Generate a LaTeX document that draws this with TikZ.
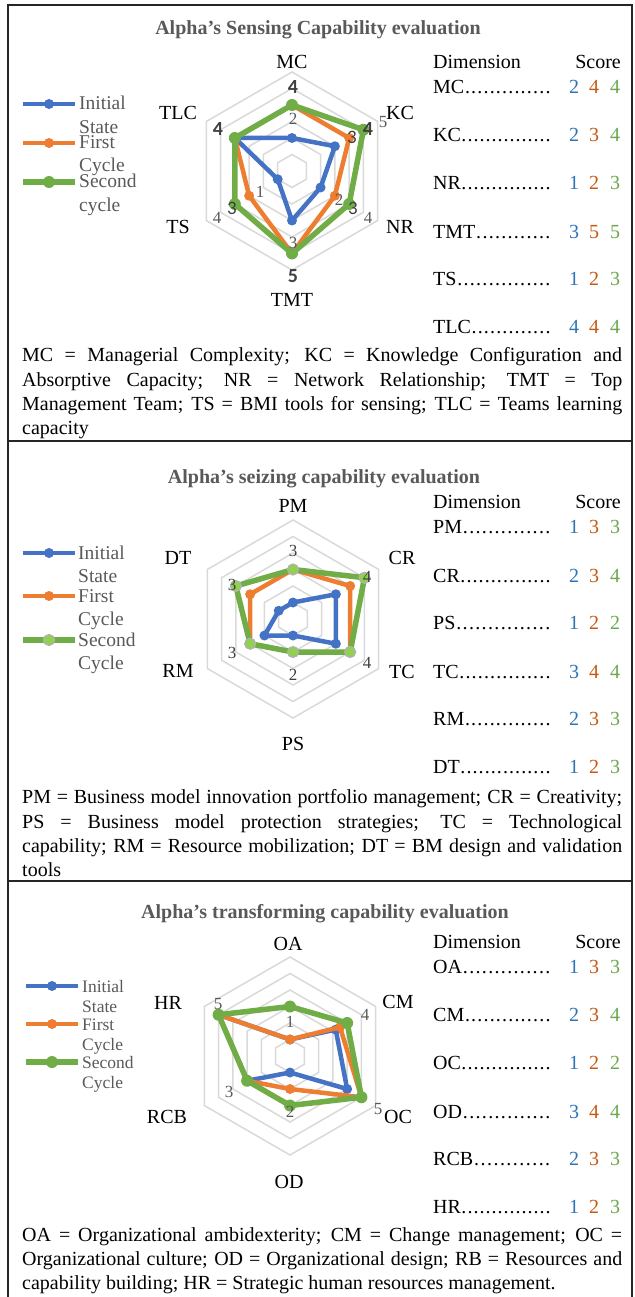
\documentclass[tikz,border=0pt]{standalone}
\usepackage{fontspec}
\setmainfont{Liberation Serif}
\newfontfamily\lblsans{Carlito}
\usepackage{tikz}
\usetikzlibrary{calc}
\definecolor{serblue}{RGB}{68,114,196}
\definecolor{serorange}{RGB}{237,125,49}
\definecolor{sergreen}{RGB}{112,173,71}
\definecolor{litegreen}{RGB}{146,208,80}
\definecolor{gridgray}{RGB}{217,217,217}
\definecolor{txtgray}{RGB}{89,89,89}
\definecolor{lblgray}{RGB}{64,64,64}
\definecolor{scoreblue}{RGB}{46,117,182}
\definecolor{scoreorange}{RGB}{197,90,17}
\definecolor{scoregreen}{RGB}{106,168,79}

\newcommand{\ru}{16.5}
\newcommand{\dotlead}{\xleaders\hbox to 6pt{\hss.\hss}\hfill}
\newcommand{\hexrings}{%
  \foreach \k in {1,...,6}
    \draw[gridln] (90:\k*\ru) -- (30:\k*\ru) -- (-30:\k*\ru) -- (-90:\k*\ru)
      -- (210:\k*\ru) -- (150:\k*\ru) -- cycle;}
\newcommand{\radarline}[8]{%
  \draw[#1] (90:#3*\ru) -- (30:#4*\ru) -- (-30:#5*\ru) -- (-90:#6*\ru)
    -- (210:#7*\ru) -- (150:#8*\ru) -- cycle;
  \foreach \a/\v in {90/#3,30/#4,-30/#5,-90/#6,210/#7,150/#8}
    \path[#2] (\a:\v*\ru) circle;}
\newcommand{\dimrow}[6]{%
  \node[tabtxt, anchor=base west] (#1) at (433,-#2) {\makebox[118pt][l]{#3\dotlead}};
  \node[tabtxt, text=scoreblue] (#1b) at (574,-#2) {#4};
  \node[tabtxt, text=scoreorange] (#1o) at (594,-#2) {#5};
  \node[tabtxt, text=scoregreen] (#1g) at (615,-#2) {#6};}
\newcommand{\footline}[3]{\node[foot] (#1) at (22,-#2) {\makebox[600pt][s]{#3}};}
\newcommand{\footlast}[3]{\node[foot] (#1) at (22,-#2) {#3};}

\begin{document}
\begin{tikzpicture}[
  x=1pt, y=1pt,
  gridln/.style={gridgray, line width=1.5},
  lnA/.style={serblue, line width=4.5, line join=round},
  lnB/.style={serorange, line width=4.5, line join=round},
  lnC/.style={sergreen, line width=5.5, line join=round},
  mkA/.style={fill=serblue, radius=5},
  mkB/.style={fill=serorange, radius=5},
  mkC/.style={fill=sergreen, radius=6},
  mkD/.style={fill=litegreen, draw=gray!60, line width=1.2, radius=5.5},
  ttl/.style={anchor=base, inner sep=0, text=txtgray, font=\bfseries\fontsize{20}{24}\selectfont},
  axlbl/.style={inner sep=0, font=\fontsize{20}{24}\selectfont},
  legtxt/.style={anchor=base west, inner sep=0, text=txtgray, font=\fontsize{19.5}{24}\selectfont},
  tabtxt/.style={anchor=base, inner sep=0, font=\fontsize{20}{24}\selectfont},
  foot/.style={anchor=base west, inner sep=0, font=\fontsize{20}{24}\selectfont},
  dlser/.style={inner sep=0, text=txtgray, font=\fontsize{17}{17}\selectfont},
  dlsans/.style={inner sep=0, text=lblgray, font=\lblsans\bfseries\fontsize{20}{20}\selectfont},
  dlsansr/.style={inner sep=0, text=lblgray, font=\lblsans\fontsize{19}{19}\selectfont}
]
\useasboundingbox (0,0) rectangle (634,-1297);
% frame and panel rules
\draw[line width=1.6, black!85] (8,-1297) -- (8,-5) -- (632,-5) -- (632,-1297);
\draw[line width=1.6, black!85] (8,-441) -- (632,-441);
\draw[line width=1.6, black!85] (8,-881) -- (632,-881);

%% sensing
\node[ttl] (t1) at (318,-35) {Alpha’s Sensing Capability evaluation};
\begin{scope}[shift={(292,-171)}]
  \hexrings
  \radarline{lnA}{mkA}{2}{3}{2}{3}{1}{4}
  \radarline{lnB}{mkB}{4}{4}{3}{5}{3}{4}
  \radarline{lnC}{mkC}{4}{5}{4}{5}{4}{4}
\end{scope}
\node[axlbl] (mc) at (292,-62) {MC};
\node[axlbl] (kc) at (400,-113) {KC};
\node[axlbl] (nr) at (400,-227) {NR};
\node[axlbl] (tmt) at (292,-300) {TMT};
\node[axlbl] (ts) at (178,-227) {TS};
\node[axlbl] (tlc) at (178,-113) {TLC};
\foreach \px/\py/\t [count=\i] in {293/87/4, 368/129/4, 218/129/4, 293/276/5}
  \node[dlsans] (s1b\i) at (\px,-\py) {\t};
\foreach \px/\py/\t [count=\i] in {352/137/3, 232/208/3, 353/208/3}
  \node[dlsansr] (s1r\i) at (\px,-\py) {\t};
\foreach \px/\py/\t [count=\i] in {293/119/2, 383/122/5, 260/192/1, 217/218/4, 339/200/2, 368/218/4, 293/243/3}
  \node[dlser] (s1s\i) at (\px,-\py) {\t};
% legend
\draw[lnA] (23,-104) -- (75,-104); \path[mkA] (49,-104) circle;
\draw[lnB] (23,-143) -- (75,-143); \path[mkB] (49,-143) circle;
\draw[lnC] (23,-182) -- (75,-182); \path[mkC] (49,-182) circle;
\node[legtxt] (l1a) at (79,-110) {Initial};
\node[legtxt] (l1b) at (79,-134) {State};
\node[legtxt] (l1c) at (79,-149) {First};
\node[legtxt] (l1d) at (79,-172) {Cycle};
\node[legtxt] (l1e) at (79,-188) {Second};
\node[legtxt] (l1f) at (79,-212) {cycle};
% scores
\node[tabtxt, anchor=base west] (dim1) at (433,-68.5) {Dimension};
\node[tabtxt, anchor=base east] (sco1) at (621,-68.5) {Score};
\dimrow{rMC}{93.5}{MC}{2}{4}{4}
\dimrow{rKC}{141.5}{KC}{2}{3}{4}
\dimrow{rNR}{189.5}{NR}{1}{2}{3}
\dimrow{rTMT}{238.5}{TMT}{3}{5}{5}
\dimrow{rTS}{285.5}{TS}{1}{2}{3}
\dimrow{rTLC}{333.5}{TLC}{4}{4}{4}
\footline{f1a}{361}{MC = Managerial Complexity; KC = Knowledge Configuration and}
\footline{f1b}{386}{Absorptive Capacity; NR = Network Relationship; TMT = Top}
\footline{f1c}{410}{Management Team; TS = BMI tools for sensing; TLC = Teams learning}
\footlast{f1d}{434}{capacity}

%% seizing
\node[ttl] (t2) at (324,-483) {Alpha’s seizing capability evaluation};
\begin{scope}[shift={(293,-619)}]
  \hexrings
  \radarline{lnA}{mkA}{1}{3}{3}{1}{2}{1}
  \radarline{lnB}{mkB}{3}{4}{4}{2}{3}{3}
  \radarline{lnC}{mkD}{3}{5}{4}{2}{3}{4}
\end{scope}
\node[axlbl] (pm) at (293,-506) {PM};
\node[axlbl] (cr) at (402,-558) {CR};
\node[axlbl] (tc) at (402,-672) {TC};
\node[axlbl] (ps) at (293,-744) {PS};
\node[axlbl] (rm) at (178,-671) {RM};
\node[axlbl] (dt) at (178,-558) {DT};
\foreach \px/\py/\t [count=\i] in {293/551/3, 367/577/4, 232/585/3, 232/653/3, 293/675/2, 367/663/4}
  \node[dlser, text=lblgray] (s2s\i) at (\px,-\py) {\t};
% legend
\draw[lnA] (23,-553) -- (75,-553); \path[mkA] (49,-553) circle;
\draw[lnB] (23,-596) -- (75,-596); \path[mkB] (49,-596) circle;
\draw[lnC] (23,-640) -- (75,-640); \path[mkD] (49,-640) circle;
\node[legtxt] (l2a) at (78,-559) {Initial};
\node[legtxt] (l2b) at (78,-582) {State};
\node[legtxt] (l2c) at (78,-602) {First};
\node[legtxt] (l2d) at (78,-625) {Cycle};
\node[legtxt] (l2e) at (78,-646) {Second};
\node[legtxt] (l2f) at (78,-669) {Cycle};
% scores
\node[tabtxt, anchor=base west] (dim2) at (433,-508.5) {Dimension};
\node[tabtxt, anchor=base east] (sco2) at (621,-508.5) {Score};
\dimrow{rPM}{533.5}{PM}{1}{3}{3}
\dimrow{rCR}{582.5}{CR}{2}{3}{4}
\dimrow{rPS}{629.5}{PS}{1}{2}{2}
\dimrow{rTC}{678.5}{TC}{3}{4}{4}
\dimrow{rRM}{725.5}{RM}{2}{3}{3}
\dimrow{rDT}{773.5}{DT}{1}{2}{3}
\footline{f2a}{803}{PM = Business model innovation portfolio management; CR = Creativity;}
\footline{f2b}{828}{PS = Business model protection strategies; TC = Technological}
\footline{f2c}{852}{capability; RM = Resource mobilization; DT = BM design and validation}
\footlast{f2d}{876}{tools}

%% transforming
\node[ttl] (t3) at (325,-918) {Alpha’s transforming capability evaluation};
\begin{scope}[shift={(290,-1056)}]
  \hexrings
  \radarline{lnA}{mkA}{1}{3.2}{4}{1}{3}{5}
  \radarline{lnB}{mkB}{1}{3.5}{5}{2}{3}{5}
  \radarline{lnC}{mkC}{3}{4}{5}{3}{3}{5}
\end{scope}
\node[axlbl] (oa) at (288,-944) {OA};
\node[axlbl] (cm) at (398,-1002) {CM};
\node[axlbl] (oc) at (398,-1117) {OC};
\node[axlbl] (od) at (289,-1182) {OD};
\node[axlbl] (rcb) at (167,-1117) {RCB};
\node[axlbl] (hr) at (168,-1003) {HR};
\foreach \px/\py/\t [count=\i] in {218/1004/5, 290/1022/1, 365/1015/4, 229/1092/3, 290/1112/2, 378/1109/5}
  \node[dlser] (s3s\i) at (\px,-\py) {\t};
% legend
\draw[lnA] (26,-986) -- (78,-986); \path[mkA] (52,-986) circle;
\draw[lnB] (26,-1024) -- (78,-1024); \path[mkB] (52,-1024) circle;
\draw[lnC] (26,-1062) -- (78,-1062); \path[mkC] (52,-1062) circle;
\node[legtxt, font=\fontsize{17.5}{20}\selectfont] (l3a) at (82,-992) {Initial};
\node[legtxt, font=\fontsize{17.5}{20}\selectfont] (l3b) at (82,-1012) {State};
\node[legtxt, font=\fontsize{17.5}{20}\selectfont] (l3c) at (82,-1030) {First};
\node[legtxt, font=\fontsize{17.5}{20}\selectfont] (l3d) at (82,-1050) {Cycle};
\node[legtxt, font=\fontsize{17.5}{20}\selectfont] (l3e) at (82,-1068) {Second};
\node[legtxt, font=\fontsize{17.5}{20}\selectfont] (l3f) at (82,-1088) {Cycle};
% scores
\node[tabtxt, anchor=base west] (dim3) at (433,-948.5) {Dimension};
\node[tabtxt, anchor=base east] (sco3) at (621,-948.5) {Score};
\dimrow{rOA}{973.5}{OA}{1}{3}{3}
\dimrow{rCM}{1021.5}{CM}{2}{3}{4}
\dimrow{rOC}{1069.5}{OC}{1}{2}{2}
\dimrow{rOD}{1118.5}{OD}{3}{4}{4}
\dimrow{rRCB}{1165.5}{RCB}{2}{3}{3}
\dimrow{rHR}{1213.5}{HR}{1}{2}{3}
\footline{f3a}{1241}{OA = Organizational ambidexterity; CM = Change management; OC =}
\footline{f3b}{1265}{Organizational culture; OD = Organizational design; RB = Resources and}
\footlast{f3c}{1289}{capability building; HR = Strategic human resources management.}
\end{tikzpicture}
\end{document}
